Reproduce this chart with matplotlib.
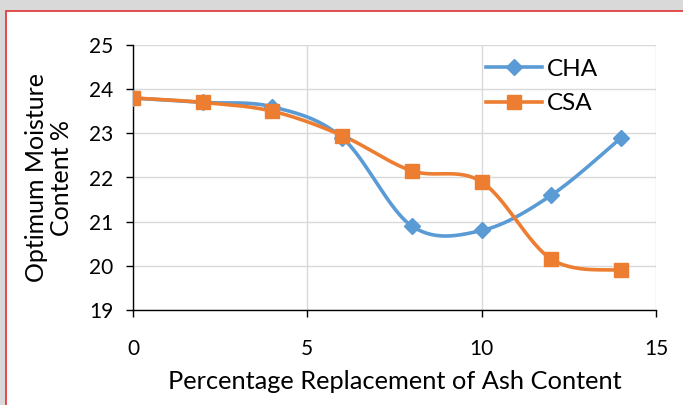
import numpy as np
import matplotlib.pyplot as plt
from matplotlib.patches import Rectangle

plt.rcParams['font.family'] = ['Lato', 'DejaVu Sans']

# values
replacement = [0, 2, 4, 6, 8, 10, 12, 14]
cha = [23.8, 23.7, 23.6, 22.9, 20.9, 20.8, 21.6, 22.9]
csa = [23.8, 23.7, 23.5, 22.95, 22.15, 21.9, 20.15, 19.9]


def smooth(x, y, n=30):
    # Excel-style smoothing: cubic Bezier through the points
    x = np.asarray(x, float)
    y = np.asarray(y, float)
    px = np.concatenate([[x[0]], x, [x[-1]]])
    py = np.concatenate([[y[0]], y, [y[-1]]])
    t = np.linspace(0, 1, n)[:, None]
    xs, ys = [], []
    for i in range(1, len(px) - 2):
        p0 = np.array([px[i], py[i]])
        p3 = np.array([px[i + 1], py[i + 1]])
        c1 = p0 + (np.array([px[i + 1], py[i + 1]]) - np.array([px[i - 1], py[i - 1]])) / 6
        c2 = p3 - (np.array([px[i + 2], py[i + 2]]) - p0) / 6
        seg = ((1 - t) ** 3) * p0 + 3 * ((1 - t) ** 2) * t * c1 + 3 * (1 - t) * t ** 2 * c2 + t ** 3 * p3
        xs.append(seg[:, 0])
        ys.append(seg[:, 1])
    return np.concatenate(xs), np.concatenate(ys)


blue = '#5B9BD5'
orange = '#ED7D31'

fig = plt.figure(figsize=(6.83, 4.05), dpi=100)
fig.patch.set_facecolor('#d9d9d9')
frame = Rectangle((6 / 683, -0.1), 1.2, 1 - 11 / 405 + 0.1, transform=fig.transFigure,
                  facecolor='white', edgecolor='#e03030', linewidth=1.2, zorder=-1)
fig.add_artist(frame)

ax = fig.add_axes([133 / 683, 1 - 310 / 405, (656 - 133) / 683, (310 - 45) / 405])
ax.set_zorder(1)
ax.set_facecolor('white')

sx, sy = smooth(replacement, cha)
ax.plot(sx, sy, color=blue, lw=2.6, zorder=3)
ax.plot(replacement, cha, ls='none', marker='D', ms=8.5, color=blue, zorder=4)
sx, sy = smooth(replacement, csa)
ax.plot(sx, sy, color=orange, lw=2.6, zorder=3)
ax.plot(replacement, csa, ls='none', marker='s', ms=10.5, color=orange, zorder=4)

# legend proxies
ax.plot([], [], color=blue, lw=2.6, marker='D', ms=8, label='CHA')
ax.plot([], [], color=orange, lw=2.6, marker='s', ms=10, label='CSA')
ax.legend(loc='upper right', bbox_to_anchor=(0.93, 1.03), frameon=False, fontsize=17.5,
          handlelength=2.3, handletextpad=0.2, labelspacing=0.55)

ax.set_xlim(0, 15)
ax.set_ylim(19, 25)
ax.set_xticks([0, 5, 10, 15])
ax.set_yticks(range(19, 26))
ax.grid(True, color='#d9d9d9', lw=1)
ax.set_axisbelow(True)
for s in ['top', 'right']:
    ax.spines[s].set_visible(False)
for s in ['left', 'bottom']:
    ax.spines[s].set_color('black')
    ax.spines[s].set_linewidth(1)
ax.tick_params(direction='out', length=5, width=1, labelsize=15, colors='black')
ax.tick_params(axis='x', pad=16)
ax.tick_params(axis='y', pad=9)

ax.set_xlabel('Percentage Replacement of Ash Content', fontsize=18.3, labelpad=8)
ax.set_ylabel('Optimum Moisture\nContent %', fontsize=18, labelpad=12, linespacing=1.1)

fig.savefig('out.png', dpi=100, facecolor=fig.get_facecolor())
